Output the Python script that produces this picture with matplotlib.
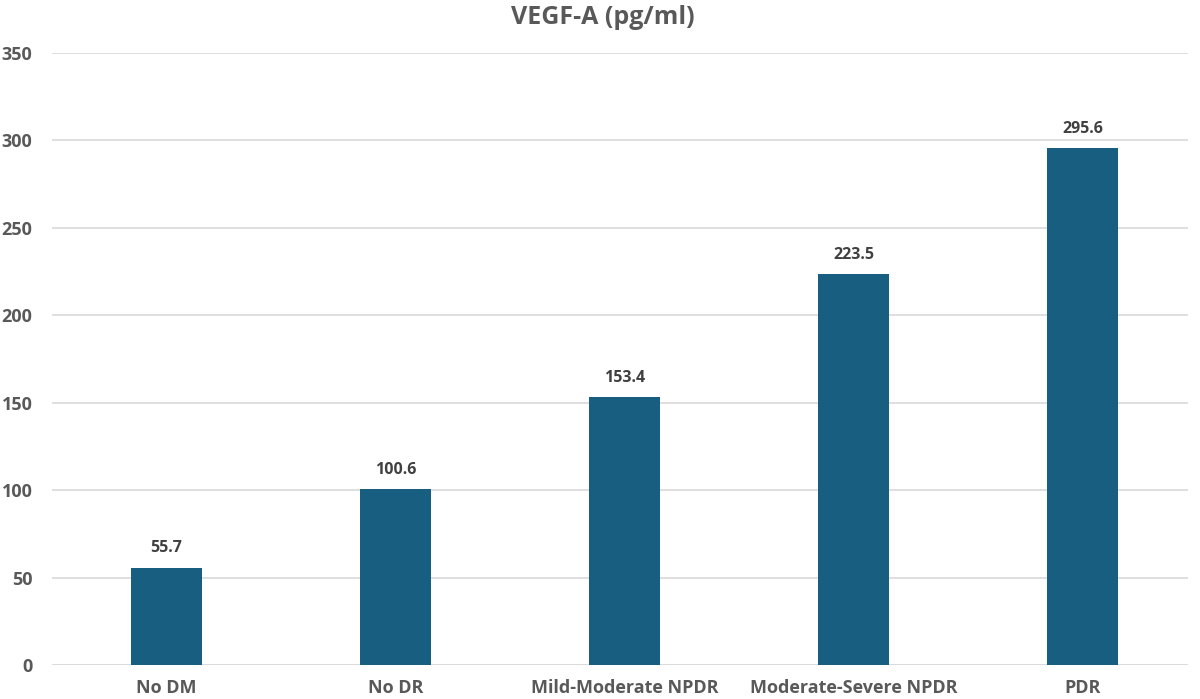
import matplotlib
matplotlib.use('Agg')
import matplotlib.pyplot as plt

categories = ['No DM', 'No DR', 'Mild-Moderate NPDR', 'Moderate-Severe NPDR', 'PDR']
values = [55.7, 100.6, 153.4, 223.5, 295.6]
yticks = [0, 50, 100, 150, 200, 250, 300, 350]

plt.rcParams['font.family'] = ['Open Sans', 'DejaVu Sans']

fig = plt.figure(figsize=(12, 6.99), dpi=100, facecolor='white')
ax = fig.add_axes([52 / 1200, 34 / 699, (1188 - 52) / 1200, (665 - 53) / 699])

x = range(len(categories))
bars = ax.bar(x, values, width=0.31, color='#175E80', zorder=3)

for b, v in zip(bars, values):
    ax.annotate(f'{v:.1f}', (b.get_x() + b.get_width() / 2, v),
                xytext=(0, 8), textcoords='offset points',
                ha='center', va='bottom', fontsize=11.5,
                fontweight='bold', color='#404040')

ax.set_xlim(-0.5, 4.46)
ax.set_ylim(0, 350)
ax.set_yticks(yticks)
ax.set_xticks(list(x))
ax.set_xticklabels(categories)
ax.yaxis.grid(True, color='#D9D9D9', linewidth=1.2, zorder=0)
ax.tick_params(axis='y', length=0, pad=14, labelsize=13, labelcolor='#595959')
ax.tick_params(axis='x', length=0, pad=10, labelsize=13, labelcolor='#595959')
for lab in ax.get_xticklabels() + ax.get_yticklabels():
    lab.set_fontweight('bold')
for s in ax.spines.values():
    s.set_visible(False)
ax.axhline(0, color='#D9D9D9', linewidth=1.2, zorder=2)

fig.text(0.502, 0.975, 'VEGF-A (pg/ml)', ha='center', va='center',
         fontsize=18, fontweight='bold', color='#595959')

fig.savefig('out.png', dpi=100, facecolor='white')
